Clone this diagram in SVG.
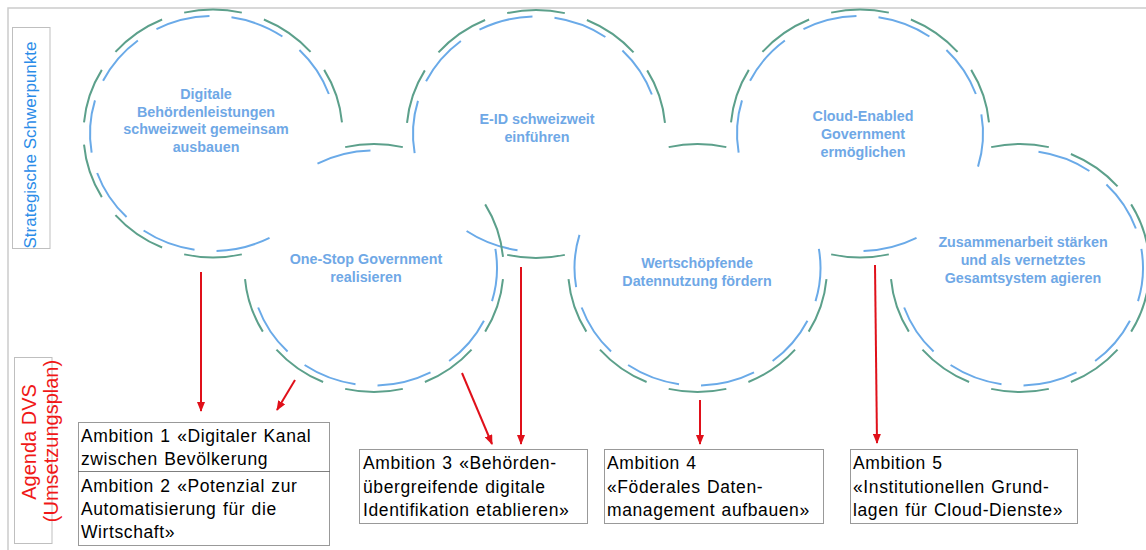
<svg xmlns="http://www.w3.org/2000/svg" width="1146" height="550" viewBox="0 0 1146 550">
<style>
.g{fill:none;stroke:#5CA08B;stroke-width:2}
.b{fill:none;stroke:#6AAAE8;stroke-width:2}
.lbl{font-family:"Liberation Sans",Arial,sans-serif;font-weight:bold;font-size:14.3px;fill:#6FA8E6;text-anchor:middle}
.amb{font-family:"Liberation Sans",Arial,sans-serif;font-size:17.5px;fill:#000;letter-spacing:0.6px;word-spacing:1px}
.box{fill:#fff;stroke:#333;stroke-width:1;stroke-dasharray:1 1}
.arr{stroke:#E0101A;stroke-width:2;fill:none;marker-end:url(#ah)}
.side{font-family:"Liberation Sans",Arial,sans-serif;font-size:17px;text-anchor:middle}
.red{font-family:"Liberation Sans",Arial,sans-serif;font-size:20px;text-anchor:middle;fill:#F01818}
</style>
<defs>
<marker id="ah" markerUnits="userSpaceOnUse" markerWidth="10" markerHeight="8" refX="9" refY="4" orient="auto">
<path d="M0,0 L10,4 L0,8 z" fill="#E0101A"/>
</marker>
<path id="g0" d="M128.98,11.11A129.5,124 0 0 1 111.17,63.6"/>
<path id="g1" d="M97.55,81.56A129.5,124 0 0 1 50.89,114.02"/>
<path id="g2" d="M28.82,120.89A129.5,124 0 0 1 -28.82,120.89"/>
<path id="g3" d="M-50.89,114.02A129.5,124 0 0 1 -97.55,81.56"/>
<path id="g4" d="M-111.17,63.6A129.5,124 0 0 1 -128.98,11.11"/>
<path id="g5" d="M-128.98,-11.11A129.5,124 0 0 1 -111.17,-63.6"/>
<path id="g6" d="M-97.55,-81.56A129.5,124 0 0 1 -50.89,-114.02"/>
<path id="g7" d="M-28.82,-120.89A129.5,124 0 0 1 28.82,-120.89"/>
<path id="g8" d="M50.89,-114.02A129.5,124 0 0 1 97.55,-81.56"/>
<path id="g9" d="M111.17,-63.6A129.5,124 0 0 1 128.98,-11.11"/>
<path id="b0" d="M121.36,-19.11A123,117.5 0 0 1 118.02,33.09"/>
<path id="b1" d="M109.94,52.69A123,117.5 0 0 1 75.12,93.04"/>
<path id="b2" d="M56.53,104.36A123,117.5 0 0 1 3.52,117.45"/>
<path id="b3" d="M-18.48,116.17A123,117.5 0 0 1 -69.41,97"/>
<path id="b4" d="M-86.43,83.6A123,117.5 0 0 1 -115.84,39.49"/>
<path id="b5" d="M-121.36,19.11A123,117.5 0 0 1 -118.02,-33.09"/>
<path id="b6" d="M-109.94,-52.69A123,117.5 0 0 1 -75.12,-93.04"/>
<path id="b7" d="M-56.53,-104.36A123,117.5 0 0 1 -3.52,-117.45"/>
<path id="b8" d="M18.48,-116.17A123,117.5 0 0 1 69.41,-97"/>
<path id="b9" d="M86.43,-83.6A123,117.5 0 0 1 115.84,-39.49"/>
</defs>
<rect width="1146" height="550" fill="#fff"/>
<path d="M8,550 V8 H1146" fill="none" stroke="#CCCCCC" stroke-width="1.5"/>
<g id="side-strategisch">
<rect x="12.5" y="27.5" width="37.5" height="221" fill="none" stroke="#BFBFBF" stroke-width="1"/>
<text class="side" fill="#2B8CE8" transform="translate(36,145) rotate(-90)">Strategische  Schwerpunkte</text>
</g>
<g id="side-agenda">
<rect x="14.5" y="357.5" width="37.5" height="186" fill="none" stroke="#BFBFBF" stroke-width="1"/>
<text class="red" transform="translate(36,442) rotate(-90)">Agenda DVS</text>
<text class="red" transform="translate(57.5,441) rotate(-90)">(Umsetzungsplan)</text>
</g>
<g id="node-digitale">
<g transform="translate(213,133.5)">
<use class="g" href="#g2"/><use class="g" href="#g3"/><use class="g" href="#g4"/><use class="g" href="#g5"/><use class="g" href="#g6"/><use class="g" href="#g7"/><use class="g" href="#g8"/><use class="g" href="#g9"/>
<use class="b" href="#b2"/><use class="b" href="#b3"/><use class="b" href="#b4"/><use class="b" href="#b5"/><use class="b" href="#b6"/><use class="b" href="#b7"/><use class="b" href="#b8"/><use class="b" href="#b9"/>
</g>
<text class="lbl" x="206" y="99">Digitale</text>
<text class="lbl" x="206" y="116.5">Behördenleistungen</text>
<text class="lbl" x="206" y="134">schweizweit gemeinsam</text>
<text class="lbl" x="206" y="151.5">ausbauen</text>
</g>
<g id="node-eid">
<g transform="translate(536,134)">
<use class="g" href="#g2"/><use class="g" href="#g5"/><use class="g" href="#g6"/><use class="g" href="#g7"/><use class="g" href="#g8"/><use class="g" href="#g9"/>
<use class="b" href="#b3"/><use class="b" href="#b5"/><use class="b" href="#b6"/><use class="b" href="#b7"/><use class="b" href="#b8"/><use class="b" href="#b9"/>
</g>
<text class="lbl" x="537" y="124">E-ID schweizweit</text>
<text class="lbl" x="537" y="142">einführen</text>
</g>
<g id="node-cloud">
<g transform="translate(860,133.5)">
<use class="g" href="#g2"/><use class="g" href="#g5"/><use class="g" href="#g6"/><use class="g" href="#g7"/><use class="g" href="#g8"/><use class="g" href="#g9"/>
<use class="b" href="#b0"/><use class="b" href="#b2"/><use class="b" href="#b5"/><use class="b" href="#b6"/><use class="b" href="#b7"/><use class="b" href="#b8"/><use class="b" href="#b9"/>
</g>
<text class="lbl" x="863" y="121">Cloud-Enabled</text>
<text class="lbl" x="863" y="139">Government</text>
<text class="lbl" x="863" y="156.5">ermöglichen</text>
</g>
<g id="node-onestop">
<g transform="translate(374,268)">
<use class="g" href="#g0"/><use class="g" href="#g1"/><use class="g" href="#g2"/><use class="g" href="#g3"/><use class="g" href="#g4"/><use class="g" href="#g7"/><use class="g" href="#g9"/>
<use class="b" href="#b0"/><use class="b" href="#b1"/><use class="b" href="#b2"/><use class="b" href="#b3"/><use class="b" href="#b4"/><use class="b" href="#b7"/>
</g>
<text class="lbl" x="366" y="264">One-Stop Government</text>
<text class="lbl" x="366" y="281.5">realisieren</text>
</g>
<g id="node-wertschoepfend">
<g transform="translate(697.5,268)">
<use class="g" href="#g0"/><use class="g" href="#g1"/><use class="g" href="#g2"/><use class="g" href="#g3"/><use class="g" href="#g4"/><use class="g" href="#g7"/>
<use class="b" href="#b0"/><use class="b" href="#b1"/><use class="b" href="#b2"/><use class="b" href="#b3"/><use class="b" href="#b4"/><use class="b" href="#b5"/>
</g>
<text class="lbl" x="697" y="268">Wertschöpfende</text>
<text class="lbl" x="697" y="285.5">Datennutzung fördern</text>
</g>
<g id="node-zusammenarbeit">
<g transform="translate(1020,268)">
<use class="g" href="#g0"/><use class="g" href="#g1"/><use class="g" href="#g2"/><use class="g" href="#g3"/><use class="g" href="#g4"/><use class="g" href="#g7"/><use class="g" href="#g8"/><use class="g" href="#g9"/>
<use class="b" href="#b0"/><use class="b" href="#b1"/><use class="b" href="#b2"/><use class="b" href="#b3"/><use class="b" href="#b4"/><use class="b" href="#b8"/><use class="b" href="#b9"/>
</g>
<text class="lbl" x="1023" y="247">Zusammenarbeit stärken</text>
<text class="lbl" x="1023" y="265">und als vernetztes</text>
<text class="lbl" x="1023" y="283">Gesamtsystem agieren</text>
</g>
<g id="connectors">
<line class="arr" x1="201" y1="272" x2="201" y2="411"/>
<line class="arr" x1="295" y1="380" x2="277" y2="410"/>
<line class="arr" x1="462" y1="373" x2="492" y2="444"/>
<line class="arr" x1="521" y1="267" x2="521" y2="444"/>
<line class="arr" x1="700" y1="400" x2="700" y2="444"/>
<line class="arr" x1="875" y1="265" x2="877" y2="443"/>
</g>
<g id="ambition-1">
<rect class="box" x="78.5" y="422.5" width="251" height="49"/>
<text class="amb" x="81" y="442">Ambition 1 «Digitaler Kanal</text>
<text class="amb" x="81" y="465">zwischen Bevölkerung</text>
</g>
<g id="ambition-2">
<rect class="box" x="78.5" y="471.5" width="251" height="74"/>
<text class="amb" x="81" y="492">Ambition 2 «Potenzial zur</text>
<text class="amb" x="81" y="515">Automatisierung für die</text>
<text class="amb" x="81" y="538">Wirtschaft»</text>
</g>
<g id="ambition-3">
<rect class="box" x="359.5" y="449.5" width="228" height="74"/>
<text class="amb" x="363" y="469">Ambition 3 «Behörden-</text>
<text class="amb" x="363" y="492.5">übergreifende digitale</text>
<text class="amb" x="363" y="516">Identifikation etablieren»</text>
</g>
<g id="ambition-4">
<rect class="box" x="604.5" y="449.5" width="219" height="74"/>
<text class="amb" x="607" y="469">Ambition 4</text>
<text class="amb" x="607" y="492.5">«Föderales Daten-</text>
<text class="amb" x="607" y="516">management aufbauen»</text>
</g>
<g id="ambition-5">
<rect class="box" x="850.5" y="449.5" width="227" height="74"/>
<text class="amb" x="853" y="469">Ambition 5</text>
<text class="amb" x="853" y="492.5">«Institutionellen Grund-</text>
<text class="amb" x="853" y="516">lagen für Cloud-Dienste»</text>
</g>
</svg>
